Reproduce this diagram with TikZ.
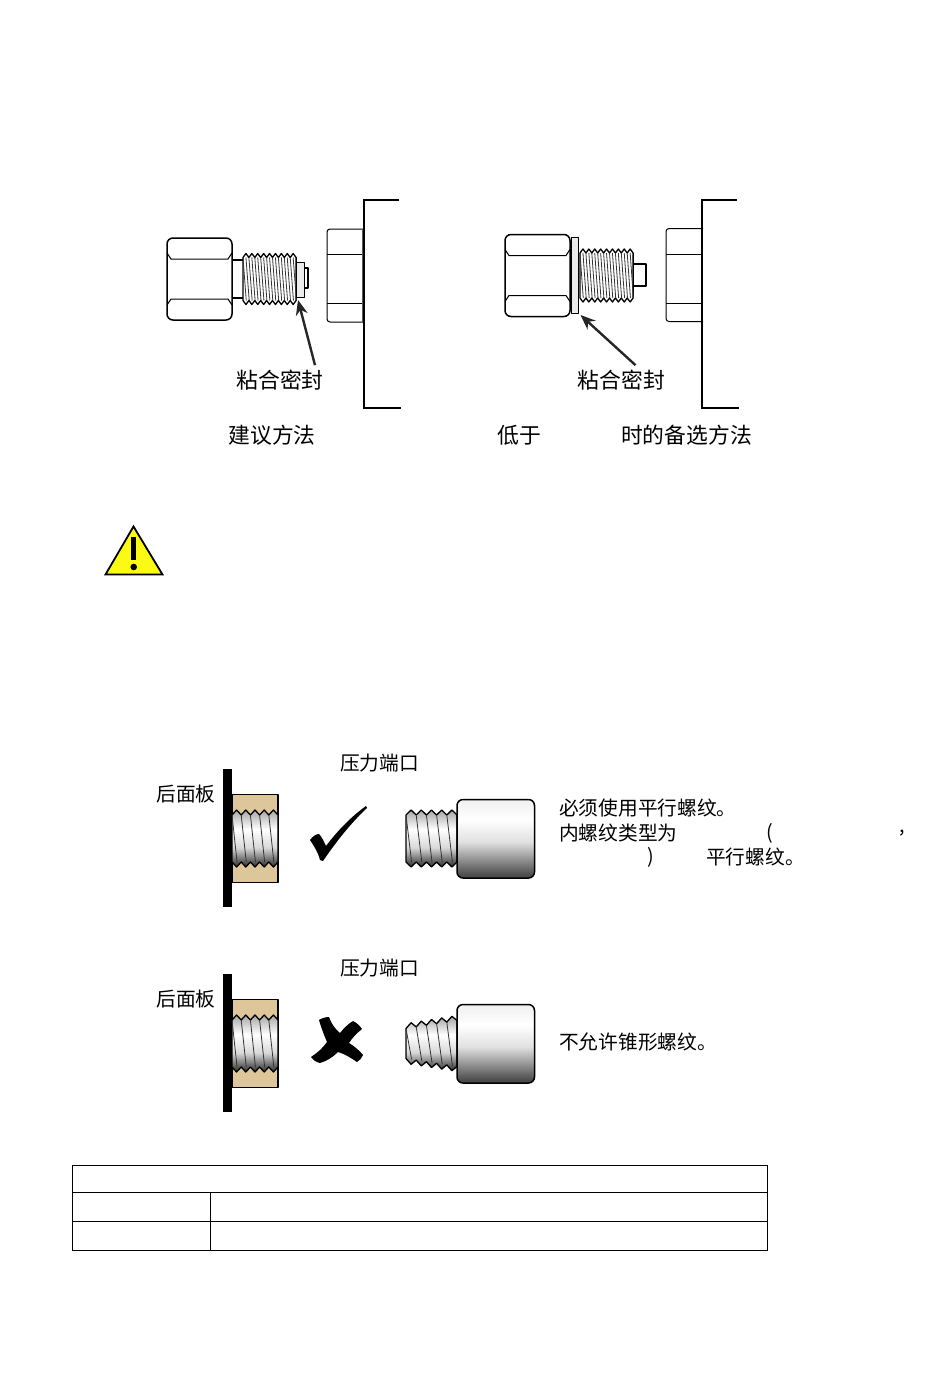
\documentclass[tikz,border=0pt]{standalone}
\usepackage{fontspec}
\setmainfont{Noto Sans CJK SC}
\usetikzlibrary{arrows.meta,positioning}
\definecolor{beige}{RGB}{222,198,155}
\definecolor{signyellow}{RGB}{250,250,20}
\pgfdeclareverticalshading{threadshade}{100bp}{color(0bp)=(black!85); color(27bp)=(black!75); color(42bp)=(black!15); color(58bp)=(white); color(75bp)=(black!35); color(100bp)=(black!35)}
\pgfdeclareverticalshading{bodyshade}{100bp}{color(0bp)=(black!80); color(27bp)=(black!70); color(48bp)=(black!12); color(62bp)=(white); color(75bp)=(black!6); color(100bp)=(black!6)}
\tikzset{
	outline/.style={draw=black, line width=1.5pt, line join=round},
	thinline/.style={draw=black, line width=1pt},
	threadfill/.style={draw=black, line width=1.3pt, line join=round},
	bigtext/.style={inner sep=0pt, font=\fontsize{21.8}{24}\selectfont},
	label/.style={inner sep=0pt, font=\fontsize{19.7}{24}\selectfont},
	pointer/.style={draw=black!85, line width=2.4pt, -{Stealth[length=15pt,width=12pt]}},
}
% x0, pitch, teeth, half height left, half height right, depth, line spacing, fill
\def\threadrun#1#2#3#4#5#6#7#8{
	\pgfmathsetmacro\threadslope{(#5-#4)/(#3*#2)}
	\pgfmathsetmacro\threadlast{#3-#7}
	\path[threadfill,#8] (#1,{-#4+#6})
		\foreach \i in {1,...,#3} { -- ({#1+(\i-.5)*#2},{-(#4+(\i-.5)*#2*\threadslope)}) -- ({#1+\i*#2},{-(#4+\i*#2*\threadslope)+#6}) }
		-- ({#1+#3*#2},{#5-#6})
		\foreach \i in {#3,...,1} { -- ({#1+(\i-.5)*#2},{#4+(\i-.5)*#2*\threadslope}) -- ({#1+(\i-1)*#2},{#4+(\i-1)*#2*\threadslope-#6}) }
		-- cycle;
	\foreach \i in {0,#7,...,\threadlast}
		\draw[black!80, line width=.8pt] ({#1+\i*#2},{-(#4+\i*#2*\threadslope)+#6}) -- ({#1+(\i+.55)*#2},{#4+(\i+.55)*#2*\threadslope-#6});
}
\def\hexnut{
	\draw[outline, fill=white, rounded corners=6pt] (0,-41) rectangle (65,41);
	\draw[thinline] (0,-26) -- (4,-20) -- (61,-20) -- (65,-26);
	\draw[thinline] (0,26) -- (4,20) -- (61,20) -- (65,26);
}
\def\panelnut{
	\draw[draw=black, line width=1pt, fill=white, rounded corners=3pt] (37,-46.5) -- (0,-46.5) -- (0,46.5) -- (37,46.5);
	\draw[thinline] (0,-21) -- (37,-21);
	\draw[thinline] (0,28) -- (37,28);
	\draw[black!65, line width=2.5pt] (36,-46.5) -- (36,46.5);
}
\def\backpanel{
	\fill[black] (223,-69.5) rectangle (232,68.5);
	\draw[outline, fill=beige] (232,-44) rectangle (278,44);
	\threadrun{232}{9.2}{5}{28.5}{28.5}{5}{1}{shade, shading=threadshade}
}
\def\portbody{
	\draw[outline, shade, shading=bodyshade, rounded corners=6pt] (457,-39) rectangle (534.5,39.5);
}

\begin{document}
\begin{tikzpicture}[x=1pt,y=-1pt]
	\useasboundingbox (0,0) rectangle (950,1378);

	%%%%% fittings, top row %%%%%
	\begin{scope}[shift={(167,279)}]
		\hexnut
		\draw[outline] (65,-19) -- (76,-19);
		\draw[outline] (65,19) -- (76,19);
		\threadrun{76}{5.9}{9}{25.5}{25.5}{4}{.5}{fill=white}
		\draw[outline, line width=1.2pt] (137,-11) rectangle (141,9);
		\draw[outline, line width=.9pt, fill=black!8] (129.5,-17) rectangle (137,18);
	\end{scope}
	\coordinate (sealA) at (298,300);
	\begin{scope}[shift={(327,275.5)}]
		\panelnut
	\end{scope}
	\draw[black, line width=2.5pt] (399,200) -- (364,200) -- (364,408) -- (401,408);
	\node[bigtext] (labelA) at (280,380.5) {粘合密封};
	\draw[pointer] ([xshift=35pt,yshift=5pt]labelA.north) -- (sealA);
	\node[bigtext] (methodA) at (272,435.5) {建议方法};

	\begin{scope}[shift={(505,275.5)}]
		\hexnut
		\threadrun{75}{5.9}{9}{26.5}{26.5}{4}{.5}{fill=white}
		\draw[outline, line width=1.2pt, fill=white] (128.5,-11.5) rectangle (141,10.5);
		\draw[outline, line width=.9pt, fill=black!8] (66,-38.5) rectangle (73,38);
	\end{scope}
	\coordinate (sealB) at (580.5,315);
	\begin{scope}[shift={(666,275)}]
		\panelnut
	\end{scope}
	\draw[black, line width=2.5pt] (737,200) -- (702,200) -- (702,408) -- (739,408);
	\node[bigtext] (labelB) at (621.5,380.5) {粘合密封};
	\draw[pointer] ([xshift=14pt,yshift=5pt]labelB.north) -- (sealB);
	\node[bigtext] (lowA) at (519,435.5) {低于};
	\node[bigtext] (lowB) at (686.5,435.5) {时的备选方法};

	%%%%% warning sign %%%%%
	\draw[outline, fill=signyellow, line width=1.8pt, line join=miter] (133.5,526.5) -- (105.5,574.5) -- (162.5,574.5) -- cycle;
	\fill[black] (131.2,537) rectangle (136.2,560);
	\fill[black] (133.7,567) circle (3.3);

	%%%%% good thread %%%%%
	\node[label] (portA) at (379.5,763) {压力端口};
	\node[label] (rearA) at (186,794) {后面板};
	\begin{scope}[shift={(0,838.5)}]
		\backpanel
		\threadrun{406}{10.2}{5}{28.5}{28.5}{5}{1}{shade, shading=threadshade}
		\portbody
	\end{scope}
	\fill[black] (310,840) .. controls (313,836) and (316,834) .. (319,834) .. controls (322,837) and (324,842) .. (326,846) .. controls (338,830) and (352,816) .. (366,806) -- (367,808) .. controls (350,824) and (336,842) .. (323,861) -- (320,860) .. controls (318,852) and (314,846) .. (310,840) -- cycle;
	\node[label, anchor=west] (noteA) at (559,808.5) {必须使用平行螺纹。};
	\node[label, anchor=west] (noteB) at (559,833) {内螺纹类型为};
	\node[label] (noteC) at (770,833) {(};
	\node[label] (noteD) at (902,833) {,};
	\node[label] (noteE) at (651,857) {)};
	\node[label, anchor=west] (noteF) at (706,857) {平行螺纹。};

	%%%%% bad thread %%%%%
	\node[label] (portB) at (379.5,968) {压力端口};
	\node[label] (rearB) at (186,999) {后面板};
	\begin{scope}[shift={(0,1043.5)}]
		\backpanel
		\threadrun{406}{10.2}{5}{20}{28}{5}{1}{shade, shading=threadshade}
		\portbody
	\end{scope}
	\fill[black] (319,1020) .. controls (322,1018) and (326,1017) .. (329,1017) .. controls (331,1023) and (335,1029) .. (340,1033) .. controls (344,1028) and (348,1024) .. (353,1021) .. controls (357,1023) and (360,1026) .. (362,1029) .. controls (357,1033) and (352,1038) .. (349,1043) .. controls (354,1046) and (359,1050) .. (363,1055) .. controls (362,1058) and (360,1060) .. (357,1062) .. controls (351,1058) and (345,1054) .. (338,1052) .. controls (333,1057) and (327,1061) .. (320,1063) .. controls (316,1062) and (313,1060) .. (311,1057) .. controls (317,1053) and (323,1048) .. (327,1042) .. controls (324,1035) and (321,1027) .. (319,1020) -- cycle;
	\node[label, anchor=west] (noteG) at (559,1041.5) {不允许锥形螺纹。};

	%%%%% table %%%%%
	\draw[black, line width=1pt] (72,1165.5) rectangle (767,1250.5);
	\draw[black, line width=1pt] (72,1192) -- (767,1192);
	\draw[black, line width=1pt] (72,1221) -- (767,1221);
	\draw[black, line width=1pt] (210.5,1192) -- (210.5,1250.5);
\end{tikzpicture}
\end{document}
